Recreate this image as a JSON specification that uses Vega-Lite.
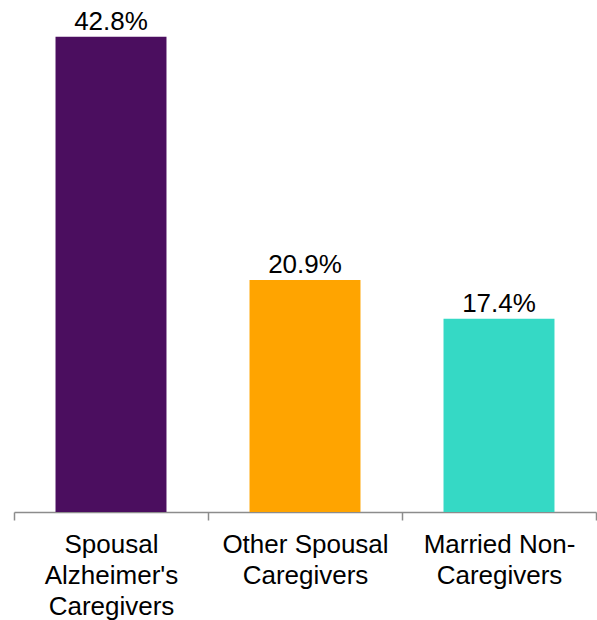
{
  "$schema": "https://vega.github.io/schema/vega-lite/v6.json",
  "width": 582,
  "height": 512,
  "autosize": {"type": "none"},
  "padding": {"left": 14, "top": 0, "right": 1, "bottom": 108},
  "background": "white",
  "config": {"view": {"stroke": null}, "font": "Liberation Sans"},
  "data": {
    "values": [
      {"group": "Spousal|Alzheimer's|Caregivers", "value": 42.8, "label": "42.8%"},
      {"group": "Other Spousal|Caregivers", "value": 20.9, "label": "20.9%"},
      {"group": "Married Non-|Caregivers", "value": 17.4, "label": "17.4%"}
    ]
  },
  "encoding": {
    "x": {
      "field": "group",
      "type": "nominal",
      "sort": null,
      "scale": {"paddingInner": 0, "paddingOuter": 0},
      "axis": {
        "title": null,
        "labelAngle": 0,
        "labelExpr": "split(datum.label, '|')",
        "labelFontSize": 26,
        "labelLineHeight": 31,
        "labelColor": "#000000",
        "labelPadding": 11,
        "labelFont": "Liberation Sans",
        "domainColor": "#8c8c8c",
        "domainWidth": 1.5,
        "tickColor": "#8c8c8c",
        "tickWidth": 1.5,
        "tickSize": 8,
        "tickBand": "extent"
      }
    },
    "y": {
      "field": "value",
      "type": "quantitative",
      "scale": {"domain": [0, 46.1], "nice": false},
      "axis": null
    }
  },
  "layer": [
    {
      "mark": {"type": "bar", "width": {"band": 0.572}},
      "encoding": {
        "color": {
          "field": "group",
          "type": "nominal",
          "sort": null,
          "scale": {"range": ["#4B0E5F", "#FFA400", "#35D9C5"]},
          "legend": null
        }
      }
    },
    {
      "mark": {"type": "text", "baseline": "alphabetic", "dy": -7, "fontSize": 26, "color": "#000000", "font": "Liberation Sans"},
      "encoding": {"text": {"field": "label"}}
    }
  ]
}
